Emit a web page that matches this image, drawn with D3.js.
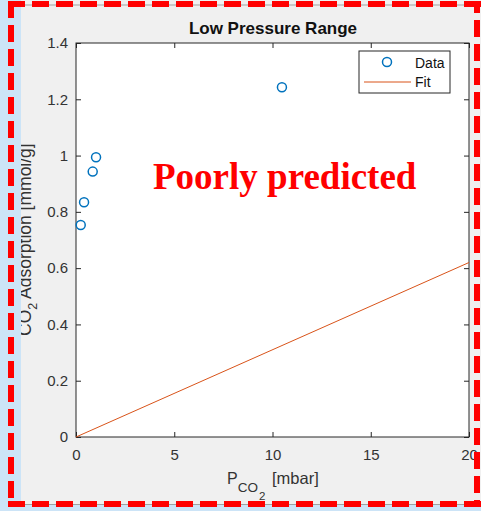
<!DOCTYPE html>
<html>
<head>
<meta charset="utf-8">
<script src="https://cdn.jsdelivr.net/npm/d3@7"></script>
<style>
  body { margin: 0; background: #f0f0f0; }
  svg { display: block; }
</style>
</head>
<body>
<svg id="chart" width="481" height="511"></svg>
<script>
// data
const pressure = [0.24, 0.41, 0.85, 1.02, 10.48];      // P_CO2 [mbar]
const adsorption = [0.753, 0.834, 0.943, 0.994, 1.243]; // mmol/g
const fitX = [0, 20];
const fitY = [0, 0.62];

const xTicks = [0, 5, 10, 15, 20];
const yTicks = [0, 0.2, 0.4, 0.6, 0.8, 1, 1.2, 1.4];
const yTickLabels = ["0", "0.2", "0.4", "0.6", "0.8", "1", "1.2", "1.4"];

const W = 481, H = 511;
const plotL = 76, plotR = 469, plotT = 43, plotB = 437;
const font = "'Liberation Sans', Arial, sans-serif";
const axisCol = "#262626";

const svg = d3.select("#chart");

svg.append("rect").attr("width", W).attr("height", H).attr("fill", "#f0f0f0");

let x = d3.scaleLinear().domain([0, 20]).range([plotL, plotR]);
let y = d3.scaleLinear().domain([0, 1.4]).range([plotB, plotT]);

// plot area
svg.append("rect")
  .attr("x", plotL).attr("y", plotT)
  .attr("width", plotR - plotL).attr("height", plotB - plotT)
  .attr("fill", "white");

// axes (ticks point inwards, like matlab)
function styleAxis(g) {
  g.select(".domain").remove();
  g.selectAll("line").attr("stroke", axisCol);
  g.selectAll("text").attr("fill", "#333").style("font-family", font).style("font-size", "15px");
}

svg.append("g")
  .attr("transform", "translate(0," + plotB + ")")
  .call(d3.axisBottom(x).tickValues(xTicks).tickSizeInner(-5).tickSizeOuter(0).tickPadding(12))
  .call(styleAxis);

svg.append("g")
  .attr("transform", "translate(0," + plotT + ")")
  .call(d3.axisTop(x).tickValues(xTicks).tickSizeInner(-5).tickSizeOuter(0).tickFormat(""))
  .call(styleAxis);

svg.append("g")
  .attr("transform", "translate(" + plotL + ",0)")
  .call(d3.axisLeft(y).tickValues(yTicks).tickSizeInner(-5).tickSizeOuter(0).tickPadding(8)
    .tickFormat((d, i) => yTickLabels[i]))
  .call(styleAxis);

svg.append("g")
  .attr("transform", "translate(" + plotR + ",0)")
  .call(d3.axisRight(y).tickValues(yTicks).tickSizeInner(-5).tickSizeOuter(0).tickFormat(""))
  .call(styleAxis);

// box
svg.append("rect")
  .attr("x", plotL).attr("y", plotT)
  .attr("width", plotR - plotL).attr("height", plotB - plotT)
  .attr("fill", "none").attr("stroke", axisCol).attr("stroke-width", 1);

// fit line
let line = d3.line().x(d => x(d[0])).y(d => y(d[1]));
svg.append("path")
  .datum(fitX.map((v, i) => [v, fitY[i]]))
  .attr("d", line)
  .attr("fill", "none")
  .attr("stroke", "#D95319")
  .attr("stroke-width", 1);

// data markers
svg.append("g")
  .selectAll("circle")
  .data(pressure.map((v, i) => [v, adsorption[i]]))
  .enter()
  .append("circle")
  .attr("cx", d => x(d[0]))
  .attr("cy", d => y(d[1]))
  .attr("r", 4.5)
  .attr("fill", "none")
  .attr("stroke", "#0072BD")
  .attr("stroke-width", 1.5);

// title
svg.append("text")
  .attr("x", 273).attr("y", 34)
  .attr("text-anchor", "middle")
  .style("font-family", font).style("font-size", "17px").style("font-weight", "bold")
  .attr("fill", "#111")
  .text("Low Pressure Range");

// x label  P_CO_2 [mbar]
let xl = svg.append("text")
  .attr("x", 227).attr("y", 484)
  .style("font-family", font).attr("fill", "#333");
xl.append("tspan").style("font-size", "16px").text("P");
xl.append("tspan").attr("dy", 8).style("font-size", "13.5px").text("CO");
xl.append("tspan").attr("dy", 8).attr("dx", 1).style("font-size", "11.5px").text("2");
xl.append("tspan").attr("x", 272).attr("y", 484).style("font-size", "16.5px").text("[mbar]");

// y label  CO_2 Adsorption [mmol/g]  (left edge hidden under the window strip)
let yl = svg.append("text")
  .attr("transform", "translate(31,336) rotate(-90)")
  .style("font-family", font).style("font-size", "17.5px").attr("fill", "#333");
yl.append("tspan").text("CO");
yl.append("tspan").attr("dy", 6).style("font-size", "12.5px").text("2");
yl.append("tspan").attr("dy", -6).text(" Adsorption [mmol/g]");

// legend
let lg = svg.append("g");
lg.append("rect")
  .attr("x", 359).attr("y", 51).attr("width", 91).attr("height", 42)
  .attr("fill", "white").attr("stroke", axisCol);
lg.append("circle")
  .attr("cx", 387).attr("cy", 62).attr("r", 4.5)
  .attr("fill", "none").attr("stroke", "#0072BD").attr("stroke-width", 1.5);
lg.append("line")
  .attr("x1", 364).attr("x2", 411).attr("y1", 82).attr("y2", 82)
  .attr("stroke", "#D95319");
lg.append("text").attr("x", 415).attr("y", 68)
  .style("font-family", font).style("font-size", "14px").attr("fill", "#111").text("Data");
lg.append("text").attr("x", 415).attr("y", 87)
  .style("font-family", font).style("font-size", "14px").attr("fill", "#111").text("Fit");

// annotation
svg.append("text")
  .attr("x", 153).attr("y", 189)
  .style("font-family", "'Liberation Serif', 'Times New Roman', serif")
  .style("font-size", "37px").style("font-weight", "bold")
  .attr("fill", "#ff0000")
  .text("Poorly predicted");

// window frame: light blue strip left and bottom, thin grey edges
svg.append("rect").attr("x", 0).attr("y", 0).attr("width", 21).attr("height", H).attr("fill", "#cce4f7");
svg.append("rect").attr("x", 0).attr("y", 505).attr("width", W).attr("height", 6).attr("fill", "#cce4f7");
svg.append("line").attr("x1", 21).attr("x2", W).attr("y1", 5).attr("y2", 5).attr("stroke", "#a0a0a0");
svg.append("line").attr("x1", 21).attr("x2", W).attr("y1", 504.5).attr("y2", 504.5).attr("stroke", "#a0a0a0");

// red dashed highlight border
let dash = svg.append("g")
  .attr("fill", "none")
  .attr("stroke", "#ff0000")
  .attr("stroke-width", 6)
  .attr("stroke-dasharray", "17,7");
dash.append("path").attr("d", "M8,4 L481,4");
dash.append("path").attr("d", "M11,1 L11,504");
dash.append("path").attr("d", "M8,504 L481,504");
dash.append("path").attr("d", "M477,4 L477,504").attr("stroke-dashoffset", 8);
</script>
</body>
</html>
